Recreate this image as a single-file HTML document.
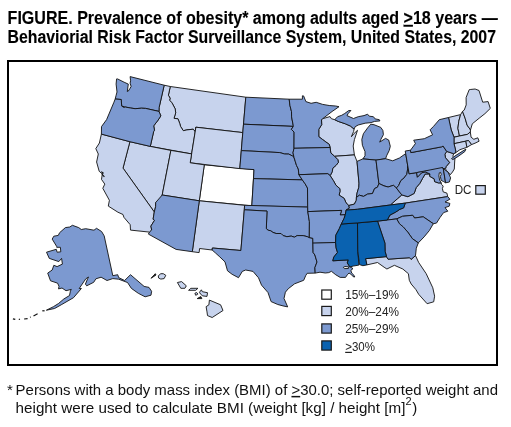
<!DOCTYPE html>
<html><head><meta charset="utf-8"><style>
html,body{margin:0;padding:0;background:#fff;}
body{width:511px;height:427px;overflow:hidden;position:relative;}
svg{position:absolute;left:0;top:0;will-change:transform;}
</style></head><body>
<svg width="511" height="427" viewBox="0 0 511 427">
<g font-family="Liberation Sans, sans-serif" fill="#000" stroke="#000" stroke-width="0.12">
<text x="7.6" y="23.9" font-size="18" font-weight="bold" textLength="490.1" lengthAdjust="spacingAndGlyphs">FIGURE. Prevalence of obesity* among adults aged <tspan text-decoration="underline">&gt;</tspan>18 years —</text>
<text x="7.6" y="42.8" font-size="18" font-weight="bold" textLength="488.4" lengthAdjust="spacingAndGlyphs">Behaviorial Risk Factor Surveillance System, United States, 2007</text>
</g>
<rect x="8" y="61" width="489" height="304" fill="none" stroke="#000" stroke-width="2"/>
<g stroke="#111" stroke-width="0.9" stroke-linejoin="round">
<path d="M204.3,164.8 L254.0,169.6 L251.8,205.8 L199.3,200.8Z" fill="#ffffff"/>
<path d="M170.3,86.5 L245.8,97.2 L242.8,132.6 L195.9,127.2 L195.2,131.6 L193.2,129.2 L186.9,129.9 L183.3,130.7 L180.6,126.5 L179.8,123.7 L178.0,118.8 L174.0,118.3 L175.7,112.9 L175.2,108.9 L171.8,102.5 L169.6,100.4 L170.1,98.2 L168.4,95.2Z" fill="#c7d3ed"/>
<path d="M164.2,85.2 L170.3,86.5 L168.4,95.2 L170.1,98.2 L169.6,100.4 L171.8,102.5 L175.2,108.9 L175.7,112.9 L174.0,118.3 L178.0,118.8 L179.8,123.7 L180.6,126.5 L183.3,130.7 L186.9,129.9 L193.2,129.2 L195.2,131.6 L195.9,127.2 L191.6,153.9 L150.3,146.4 L153.7,131.4 L154.5,130.2 L153.7,125.9 L158.2,120.0 L160.8,115.9 L159.0,111.4 L159.1,107.6Z" fill="#c7d3ed"/>
<path d="M195.9,127.2 L242.8,132.6 L241.3,150.6 L239.8,168.6 L190.2,162.8Z" fill="#c7d3ed"/>
<path d="M129.9,141.7 L150.3,146.4 L170.9,150.4 L162.2,195.0 L160.9,202.1 L155.7,202.5 L155.6,206.7 L154.3,212.0 L123.0,168.1Z" fill="#c7d3ed"/>
<path d="M170.9,150.4 L191.6,153.9 L190.2,162.8 L204.3,164.8 L199.3,200.8 L162.2,195.0Z" fill="#c7d3ed"/>
<path d="M101.4,134.1 L129.9,141.7 L123.0,168.1 L154.3,212.0 L153.1,219.2 L154.5,220.3 L150.9,226.1 L151.7,230.0 L149.5,232.1 L130.5,230.1 L130.2,224.7 L123.9,217.3 L123.0,214.5 L117.9,212.2 L108.3,206.1 L109.4,200.3 L102.8,188.3 L104.8,184.1 L101.5,179.4 L102.3,174.0 L99.2,171.3 L96.6,162.0 L98.3,154.0 L95.8,148.6 L99.4,143.0Z" fill="#c7d3ed"/>
<path d="M199.3,200.8 L244.6,205.3 L244.3,209.8 L240.9,250.5 L212.4,248.0 L212.1,250.0 L199.6,248.5 L199.1,252.6 L192.3,251.7Z" fill="#c7d3ed"/>
<path d="M334.6,156.3 L354.4,154.9 L353.2,146.0 L354.4,139.6 L357.5,130.3 L353.8,133.8 L351.4,136.7 L353.6,131.5 L354.1,129.1 L350.5,126.1 L345.3,123.8 L338.2,121.4 L334.7,119.7 L331.4,118.7 L330.0,116.6 L322.7,118.7 L321.5,119.6 L321.7,124.7 L318.8,129.3 L318.8,136.7 L322.3,139.3 L325.1,141.4 L329.3,144.4 L330.1,147.5 L330.8,152.9Z" fill="#c7d3ed"/>
<path d="M334.6,156.3 L354.4,154.9 L357.0,161.4 L359.0,183.2 L358.8,187.3 L357.1,192.9 L356.4,197.5 L356.3,200.3 L354.4,204.1 L348.8,205.5 L346.0,202.8 L344.2,198.4 L339.1,195.1 L340.0,191.4 L339.8,188.6 L335.9,185.2 L333.5,180.8 L330.2,175.7 L332.2,171.8 L332.8,168.2 L336.1,165.3 L338.4,162.4 L337.9,159.7Z" fill="#c7d3ed"/>
<path d="M448.5,117.5 L460.6,114.6 L458.8,121.2 L457.9,128.3 L459.5,136.0 L454.0,137.2 L451.2,129.9Z" fill="#c7d3ed"/>
<path d="M460.6,114.6 L462.5,111.4 L465.1,118.2 L467.1,125.1 L470.5,129.9 L470.3,132.0 L467.4,134.4 L459.5,136.0 L457.9,128.3 L458.8,121.2Z" fill="#c7d3ed"/>
<path d="M470.5,129.9 L472.3,123.8 L479.2,118.2 L484.9,113.7 L490.3,108.4 L488.1,101.6 L482.7,102.2 L479.0,90.5 L475.1,89.0 L470.2,89.5 L469.2,89.7 L466.1,97.5 L466.2,104.9 L464.2,110.1 L462.5,111.4 L465.1,118.2 L467.1,125.1Z" fill="#c7d3ed"/>
<path d="M454.0,137.2 L459.5,136.0 L467.4,134.4 L470.3,132.0 L471.1,137.2 L473.8,139.3 L477.8,137.8 L479.1,141.2 L475.0,143.2 L471.5,144.6 L468.5,140.5 L465.6,141.2 L454.0,143.7Z" fill="#c7d3ed"/>
<path d="M465.6,141.2 L468.5,140.5 L471.5,144.6 L466.9,147.3Z" fill="#c7d3ed"/>
<path d="M454.0,143.7 L465.6,141.2 L466.9,147.3 L459.9,149.7 L455.2,153.1 L455.8,151.1Z" fill="#c7d3ed"/>
<path d="M446.7,151.4 L453.7,153.7 L452.8,156.2 L454.9,158.4 L454.6,163.0 L454.3,169.0 L452.5,172.0 L450.2,174.8 L448.3,172.3 L446.1,170.5 L445.6,168.6 L446.1,166.6 L449.6,162.5 L445.5,157.8 L444.9,154.3Z" fill="#c7d3ed"/>
<path d="M365.5,258.7 L386.5,256.6 L388.0,259.2 L409.6,257.7 L411.1,259.4 L415.5,255.6 L418.7,262.5 L426.2,273.7 L432.8,287.8 L434.6,296.2 L433.7,301.8 L427.1,303.7 L418.7,294.3 L415.9,289.6 L411.2,284.0 L409.3,280.3 L408.4,273.7 L402.8,269.0 L394.4,265.3 L386.9,269.0 L384.1,267.2 L377.5,262.5 L366.9,264.9Z" fill="#c7d3ed"/>
<path d="M390.3,205.0 L397.6,198.6 L401.8,194.9 L407.9,196.7 L414.2,193.4 L416.2,187.6 L419.9,183.3 L422.4,178.7 L425.2,174.0 L429.9,173.9 L429.7,176.3 L434.2,178.8 L434.6,181.6 L438.3,182.9 L441.2,182.9 L441.6,184.5 L443.2,186.1 L442.4,188.6 L443.2,191.9 L446.9,193.1 L447.7,196.6 L405.3,203.1Z" fill="#c7d3ed"/>
<path d="M130.1,76.6 L164.2,85.2 L159.1,107.6 L159.0,111.4 L145.6,108.4 L141.4,108.2 L135.1,108.7 L130.5,108.0 L125.2,107.0 L120.7,105.8 L124.1,107.5 L121.7,106.1 L121.2,99.5 L115.2,99.0 L116.1,95.3 L117.0,92.0 L116.1,84.1 L116.6,78.9 L117.5,78.9 L124.1,82.2 L128.3,84.1 L127.3,91.5 L128.3,91.1 L130.1,88.3 L131.1,86.4 L130.1,83.1 L130.6,80.8Z" fill="#7c99d0"/>
<path d="M115.2,99.0 L121.2,99.5 L121.7,106.1 L124.1,107.5 L125.2,107.0 L130.5,108.0 L135.1,108.7 L141.4,108.2 L145.6,108.4 L159.0,111.4 L160.8,115.9 L158.2,120.0 L153.7,125.9 L154.5,130.2 L153.7,131.4 L150.3,146.4 L129.9,141.7 L101.4,134.1 L101.5,126.6 L106.6,119.6 L113.7,102.8Z" fill="#7c99d0"/>
<path d="M162.2,195.0 L199.3,200.8 L192.3,251.7 L176.1,249.4 L148.4,234.1 L149.5,232.1 L151.7,230.0 L150.9,226.1 L154.5,220.3 L153.1,219.2 L154.3,212.0 L155.6,206.7 L155.7,202.5Z" fill="#7c99d0"/>
<path d="M245.8,97.2 L289.2,99.2 L289.9,105.3 L291.5,111.6 L291.6,116.9 L293.3,125.8 L293.3,126.4 L243.5,124.2Z" fill="#7c99d0"/>
<path d="M243.5,124.2 L293.3,126.4 L291.4,129.4 L294.1,132.1 L294.0,148.3 L293.0,152.8 L294.0,157.4 L292.3,155.9 L288.8,154.1 L284.6,154.0 L279.8,152.6 L241.3,150.6Z" fill="#7c99d0"/>
<path d="M241.3,150.6 L279.8,152.6 L284.6,154.0 L288.8,154.1 L292.3,155.9 L294.0,157.4 L295.4,161.8 L296.5,165.4 L298.3,169.0 L298.9,174.7 L302.3,179.9 L253.5,178.6 L254.0,169.6 L239.8,168.6Z" fill="#7c99d0"/>
<path d="M253.5,178.6 L302.3,179.9 L305.2,183.9 L307.5,188.0 L307.8,207.1 L251.8,205.8Z" fill="#7c99d0"/>
<path d="M244.6,205.3 L307.7,207.1 L307.8,211.6 L309.4,221.6 L309.3,237.5 L309.5,237.8 L307.4,236.7 L303.1,235.6 L297.1,235.6 L294.4,237.2 L291.2,236.1 L286.9,236.7 L283.1,235.6 L281.0,233.5 L276.1,233.5 L272.9,232.4 L270.8,230.8 L268.1,230.2 L266.3,228.7 L267.0,211.1 L244.3,209.8Z" fill="#7c99d0"/>
<path d="M244.3,209.8 L267.0,211.1 L266.3,228.7 L268.1,230.2 L270.8,230.8 L272.9,232.4 L276.1,233.5 L281.0,233.5 L283.1,235.6 L286.9,236.7 L291.2,236.1 L294.4,237.2 L297.1,235.6 L303.1,235.6 L307.4,236.7 L309.5,237.8 L309.3,237.5 L312.8,238.3 L312.9,243.1 L313.1,252.4 L314.9,255.0 L317.0,262.0 L314.9,267.6 L315.2,273.1 L307.2,273.3 L305.8,275.4 L303.7,280.3 L294.6,283.8 L288.3,288.7 L285.4,292.2 L284.0,298.5 L287.7,306.9 L283.0,305.9 L277.8,304.5 L271.1,301.6 L268.0,292.6 L261.5,285.1 L258.5,277.8 L253.0,271.4 L245.7,270.0 L242.3,271.4 L238.5,277.7 L232.1,274.3 L227.5,270.8 L225.0,261.9 L219.8,256.9 L215.3,252.8 L212.1,250.0 L212.4,248.0 L240.9,250.5Z" fill="#7c99d0"/>
<path d="M289.2,99.2 L302.4,99.2 L302.4,95.8 L303.6,95.9 L305.9,101.6 L311.1,103.3 L316.2,102.3 L322.7,104.4 L329.2,105.5 L335.7,106.0 L339.0,106.7 L332.1,111.5 L322.7,118.7 L321.5,119.6 L321.7,124.7 L318.8,129.3 L318.8,136.7 L322.3,139.3 L325.1,141.4 L329.3,144.4 L330.1,147.5 L294.0,148.3 L294.1,132.1 L291.4,129.4 L293.3,126.4 L293.3,125.8 L291.6,116.9 L291.5,111.6 L289.9,105.3Z" fill="#7c99d0"/>
<path d="M294.0,148.3 L330.1,147.5 L330.8,152.9 L334.5,156.3 L337.9,159.7 L338.4,162.4 L336.1,165.3 L332.8,168.2 L332.2,171.8 L330.2,175.7 L327.8,173.7 L298.9,174.7 L298.3,169.0 L296.5,165.4 L295.4,161.8 L294.0,157.4 L293.0,152.8Z" fill="#7c99d0"/>
<path d="M298.9,174.7 L327.8,173.7 L330.2,175.7 L333.5,180.8 L335.9,185.2 L339.8,188.6 L340.0,191.4 L339.1,195.1 L344.2,198.4 L346.0,202.8 L348.8,205.5 L349.4,208.1 L346.1,210.1 L345.3,214.7 L340.2,215.0 L341.6,210.4 L307.8,211.6 L307.7,207.1 L307.5,188.0 L305.2,183.9 L302.3,179.9Z" fill="#7c99d0"/>
<path d="M307.8,211.6 L341.6,210.4 L340.2,215.0 L345.3,214.7 L344.1,218.4 L341.3,224.0 L339.3,228.7 L335.8,235.2 L335.6,242.5 L312.9,243.3 L312.8,238.3 L309.3,237.5 L309.4,221.6Z" fill="#7c99d0"/>
<path d="M312.9,243.1 L335.6,242.5 L336.1,247.9 L337.5,252.4 L333.8,257.1 L332.8,260.8 L348.3,259.9 L347.3,262.9 L349.9,266.9 L350.8,267.3 L353.0,268.6 L350.8,270.4 L351.7,273.0 L353.9,275.2 L354.8,277.0 L353.0,276.6 L351.7,274.8 L349.0,273.0 L347.3,274.8 L345.5,277.4 L340.2,277.4 L335.8,274.8 L331.4,271.3 L328.8,272.6 L325.3,273.0 L320.0,272.2 L315.2,273.1 L314.9,267.6 L317.0,262.0 L314.9,255.0 L313.1,252.4Z" fill="#7c99d0"/>
<path d="M362.9,158.9 L365.0,155.8 L365.0,151.6 L362.4,145.3 L361.8,139.5 L363.4,133.7 L366.1,130.0 L367.6,127.9 L370.8,124.2 L374.0,124.7 L380.8,127.4 L382.9,130.5 L383.4,134.7 L380.8,139.5 L379.7,142.1 L385.5,138.4 L388.7,140.0 L390.3,146.3 L389.2,150.5 L386.6,155.8 L385.6,158.7 L376.0,160.1Z" fill="#7c99d0"/>
<path d="M334.7,119.7 L337.6,116.7 L341.7,115.3 L344.7,113.5 L348.8,110.5 L350.9,110.5 L348.2,113.5 L347.0,115.6 L350.0,117.0 L353.5,118.5 L358.2,116.7 L364.0,115.6 L367.6,114.2 L369.3,116.2 L373.4,116.7 L375.2,118.9 L379.3,119.7 L379.9,120.9 L374.6,121.4 L371.1,122.6 L365.2,123.2 L358.2,125.0 L355.2,126.7 L354.1,129.1 L350.5,126.1 L345.3,123.8 L338.2,121.4Z" fill="#7c99d0"/>
<path d="M357.0,161.4 L362.9,158.9 L376.0,160.1 L378.9,183.5 L377.5,187.2 L374.6,188.5 L372.5,193.5 L367.6,194.1 L363.5,196.4 L359.4,195.2 L356.4,197.5 L357.1,192.9 L358.8,187.3 L359.0,183.2Z" fill="#7c99d0"/>
<path d="M405.7,153.6 L399.4,158.0 L392.7,160.8 L385.6,158.7 L376.0,160.1 L378.9,183.5 L384.0,185.9 L388.1,187.0 L393.4,185.3 L396.4,188.0 L398.6,185.6 L400.8,180.7 L404.1,177.9 L406.8,174.3 L407.7,168.7 L407.7,165.5Z" fill="#7c99d0"/>
<path d="M346.1,210.1 L349.4,208.1 L348.8,205.5 L354.4,204.1 L356.3,200.3 L356.4,197.5 L359.4,195.2 L363.5,196.4 L367.6,194.1 L372.5,193.5 L374.6,188.5 L377.5,187.2 L378.9,183.5 L384.0,185.9 L388.1,187.0 L393.4,185.3 L396.4,188.0 L401.8,194.9 L397.6,198.6 L390.3,205.0 L357.5,209.3Z" fill="#7c99d0"/>
<path d="M396.4,188.0 L401.8,194.9 L407.9,196.7 L414.2,193.4 L416.2,187.6 L419.9,183.3 L422.4,178.7 L425.2,174.0 L429.9,173.9 L425.2,171.9 L421.6,172.8 L417.4,177.2 L416.6,172.6 L409.1,173.8 L407.7,165.5 L407.7,168.7 L406.8,174.3 L404.1,177.9 L400.8,180.7 L398.6,185.6Z" fill="#7c99d0"/>
<path d="M405.7,153.6 L405.2,151.0 L410.5,150.2 L410.9,152.6 L441.4,146.9 L443.1,146.1 L446.7,151.4 L444.9,154.3 L445.5,157.8 L449.6,162.5 L446.1,166.6 L445.6,168.4 L443.7,168.6 L416.6,172.6 L409.1,173.8Z" fill="#7c99d0"/>
<path d="M410.9,152.6 L410.5,150.2 L415.4,143.6 L413.7,140.2 L424.3,138.7 L432.6,134.8 L430.1,129.8 L433.5,126.4 L439.3,119.7 L448.5,117.5 L451.2,129.9 L454.0,137.2 L454.0,143.7 L455.8,151.1 L455.2,153.1 L453.7,153.7 L446.7,151.4 L443.1,146.1 L441.4,146.9Z" fill="#7c99d0"/>
<path d="M451.5,158.6 L456.0,155.3 L465.9,149.1 L464.8,151.6 L458.2,156.4 L452.8,159.6Z" fill="#7c99d0"/>
<path d="M387.3,220.0 L389.9,215.1 L395.7,212.1 L399.9,209.3 L403.6,207.9 L405.3,203.1 L447.7,196.6 L449.9,199.2 L445.0,202.0 L449.9,203.4 L449.2,206.2 L445.0,207.6 L447.8,211.2 L443.6,212.6 L440.0,217.5 L436.5,223.1 L433.3,223.7 L423.2,216.8 L414.5,218.0 L413.1,215.6 L412.2,215.3 L402.5,216.3 L396.7,218.9Z" fill="#7c99d0"/>
<path d="M396.7,218.9 L402.5,216.3 L412.2,215.3 L413.1,215.6 L414.5,218.0 L423.2,216.8 L433.3,223.7 L429.4,230.5 L424.1,236.9 L418.3,242.9 L412.4,238.7 L407.7,232.0 L403.4,227.1 L399.3,223.6Z" fill="#7c99d0"/>
<path d="M377.5,221.1 L387.3,220.0 L396.7,218.9 L399.3,223.6 L403.4,227.1 L407.7,232.0 L412.4,238.7 L418.3,242.9 L416.3,248.2 L415.5,255.6 L411.1,259.4 L409.6,257.7 L388.0,259.2 L386.5,256.6 L385.1,251.3 L384.9,243.1Z" fill="#7c99d0"/>
<path d="M442.4,167.5 L416.6,172.6 L417.4,177.2 L421.6,172.8 L425.2,171.9 L429.9,173.9 L429.7,176.3 L434.2,178.8 L434.6,181.6 L438.3,182.9 L441.2,182.9 L439.6,180.0 L438.9,176.0 L439.3,172.8 L440.6,172.4 L441.2,174.5 L440.3,176.3 L441.2,180.4 L443.6,181.6 L445.6,182.8 L443.3,168.6Z" fill="#7c99d0"/>
<path d="M442.4,167.5 L443.6,168.9 L448.1,172.2 L450.6,177.9 L449.4,182.0 L445.6,182.8 L443.3,168.6Z" fill="#7c99d0"/>
<path d="M341.3,224.0 L357.5,222.9 L357.8,251.1 L358.9,265.1 L353.5,266.0 L349.9,266.9 L347.3,262.9 L348.3,259.9 L332.8,260.8 L333.8,257.1 L337.5,252.4 L336.1,247.9 L335.6,242.5 L335.8,235.2 L339.3,228.7Z" fill="#0a62b0"/>
<path d="M357.5,222.9 L377.5,221.1 L384.9,243.1 L385.1,251.3 L386.5,256.6 L365.5,258.7 L366.9,264.9 L362.9,265.7 L359.5,264.6 L357.8,251.1Z" fill="#0a62b0"/>
<path d="M341.3,224.0 L344.1,218.4 L345.3,214.7 L346.1,210.1 L357.5,209.3 L390.3,205.0 L405.3,203.1 L403.6,207.9 L399.9,209.3 L395.7,212.1 L389.9,215.1 L387.3,220.0 L377.5,221.1 L357.5,222.9Z" fill="#0a62b0"/>
<path d="M52.2,239.1 L53.8,236.2 L58.3,235.4 L59.6,232.7 L65.4,227.6 L69.8,227.0 L72.4,225.3 L78.7,227.6 L81.3,229.5 L85.7,228.7 L94.0,230.2 L96.5,228.3 L101.6,231.5 L104.2,235.9 L112.8,275.7 L117.7,274.7 L118.7,277.6 L124.6,280.5 L130.5,274.7 L144.1,286.4 L149.0,287.4 L151.6,291.3 L151.0,295.2 L145.1,296.8 L138.3,293.3 L131.4,288.4 L127.5,282.5 L118.7,279.2 L112.8,278.6 L107.0,280.5 L101.1,277.2 L95.9,278.8 L93.7,282.3 L86.7,285.8 L85.4,284.1 L87.6,278.8 L88.5,277.0 L85.8,278.8 L79.2,288.5 L81.4,288.5 L73.5,297.7 L61.2,304.8 L54.6,308.5 L46.4,310.2 L53.4,306.7 L58.5,303.5 L63.8,299.0 L69.5,295.5 L70.4,291.1 L71.3,289.4 L66.0,290.7 L62.0,288.0 L58.5,288.9 L59.0,286.3 L57.6,283.2 L55.0,282.3 L50.5,280.8 L47.7,273.1 L52.2,270.0 L53.8,265.3 L57.1,266.6 L62.4,264.1 L61.6,258.4 L58.8,261.6 L49.3,258.4 L46.5,252.2 L56.3,249.3 L57.1,252.2 L60.8,251.8 L60.4,247.3 L56.7,247.3 L56.7,246.5Z" fill="#7c99d0"/>
<path d="M158.3,275.8 L160.8,273.7 L163.3,273.7 L165.8,275.3 L164.1,278.6 L160.8,279.1 L158.6,278.0Z" fill="#c7d3ed"/>
<path d="M177.4,282.5 L181.6,281.6 L186.3,285.8 L184.9,288.3 L180.8,288.3Z" fill="#c7d3ed"/>
<path d="M188.6,290.3 L190.8,288.3 L197.9,288.3 L195.7,290.3Z" fill="#c7d3ed"/>
<path d="M194.9,293.3 L196.6,292.5 L197.9,294.1 L195.7,295.3Z" fill="#c7d3ed"/>
<path d="M201.4,289.8 L202.3,291.7 L207.5,292.7 L207.0,296.4 L202.8,295.9 L200.5,294.1 L199.5,292.2Z" fill="#c7d3ed"/>
<path d="M209.4,300.1 L220.6,304.8 L223.0,310.5 L212.2,317.5 L207.5,315.6 L207.0,311.9 L206.1,306.7 L208.9,304.8Z" fill="#c7d3ed"/>
<path d="M343.3,267.4 L345.0,266.5 L348.8,266.9 L348.4,268.5 L344.5,268.6Z" fill="#fff"/>
<path d="M151.0,278.3 L155.3,273.7 L156.0,275.0Z" fill="#222"/>
<path d="M197.2,298.6 L200.8,296.6 L201.9,298.6Z" fill="#222"/>
<path d="M101.2,171.6 L103.2,173 L102.2,174.3 L104.4,176.8" fill="none" stroke-width="1.1"/>
</g>
<g stroke="#111" stroke-width="1.2"><line x1="42.3" y1="310.8" x2="44.6" y2="310.8"/><line x1="33.5" y1="316.1" x2="37.6" y2="313.8"/><line x1="30" y1="317.3" x2="30.8" y2="317"/><line x1="24.1" y1="319" x2="27.6" y2="318.6"/><line x1="18.8" y1="319.5" x2="20" y2="319.2"/><line x1="12.9" y1="318.8" x2="15.3" y2="319.4"/></g>
<g stroke="#1a1a1a" stroke-width="1.2">
<rect x="321.8" y="290" width="9.5" height="9.2" fill="#ffffff"/>
<rect x="321.8" y="306.4" width="9.5" height="9.2" fill="#c7d3ed"/>
<rect x="321.8" y="323.9" width="9.5" height="9.2" fill="#7c99d0"/>
<rect x="321.8" y="340.9" width="9.5" height="9.2" fill="#0a62b0"/>
<rect x="475.8" y="185.6" width="9.5" height="8.6" fill="#c7d3ed"/>
</g>
<g font-family="Liberation Sans, sans-serif" fill="#222" font-size="12">
<text x="345.2" y="299.2" textLength="53.8" lengthAdjust="spacingAndGlyphs">15%–19%</text>
<text x="345.2" y="315.9" textLength="53.8" lengthAdjust="spacingAndGlyphs">20%–24%</text>
<text x="345.2" y="333.2" textLength="53.8" lengthAdjust="spacingAndGlyphs">25%–29%</text>
<text x="345.2" y="350.8" textLength="29.8" lengthAdjust="spacingAndGlyphs"><tspan text-decoration="underline">&gt;</tspan>30%</text>
<text x="454.7" y="194.1" font-size="12" textLength="16.8" lengthAdjust="spacingAndGlyphs">DC</text>
</g>
<g font-family="Liberation Sans, sans-serif" fill="#111" font-size="15">
<text x="7" y="394.9">*</text>
<text x="15.6" y="394.9" textLength="482.4" lengthAdjust="spacingAndGlyphs">Persons with a body mass index (BMI) of <tspan text-decoration="underline">&gt;</tspan>30.0; self-reported weight and</text>
<text x="15.6" y="413.4" textLength="389.8" lengthAdjust="spacingAndGlyphs">height were used to calculate BMI (weight [kg] / height [m]</text>
<text x="405.6" y="405" font-size="11">2</text><text x="412.2" y="413.4">)</text>
</g>
</svg>
</body></html>
